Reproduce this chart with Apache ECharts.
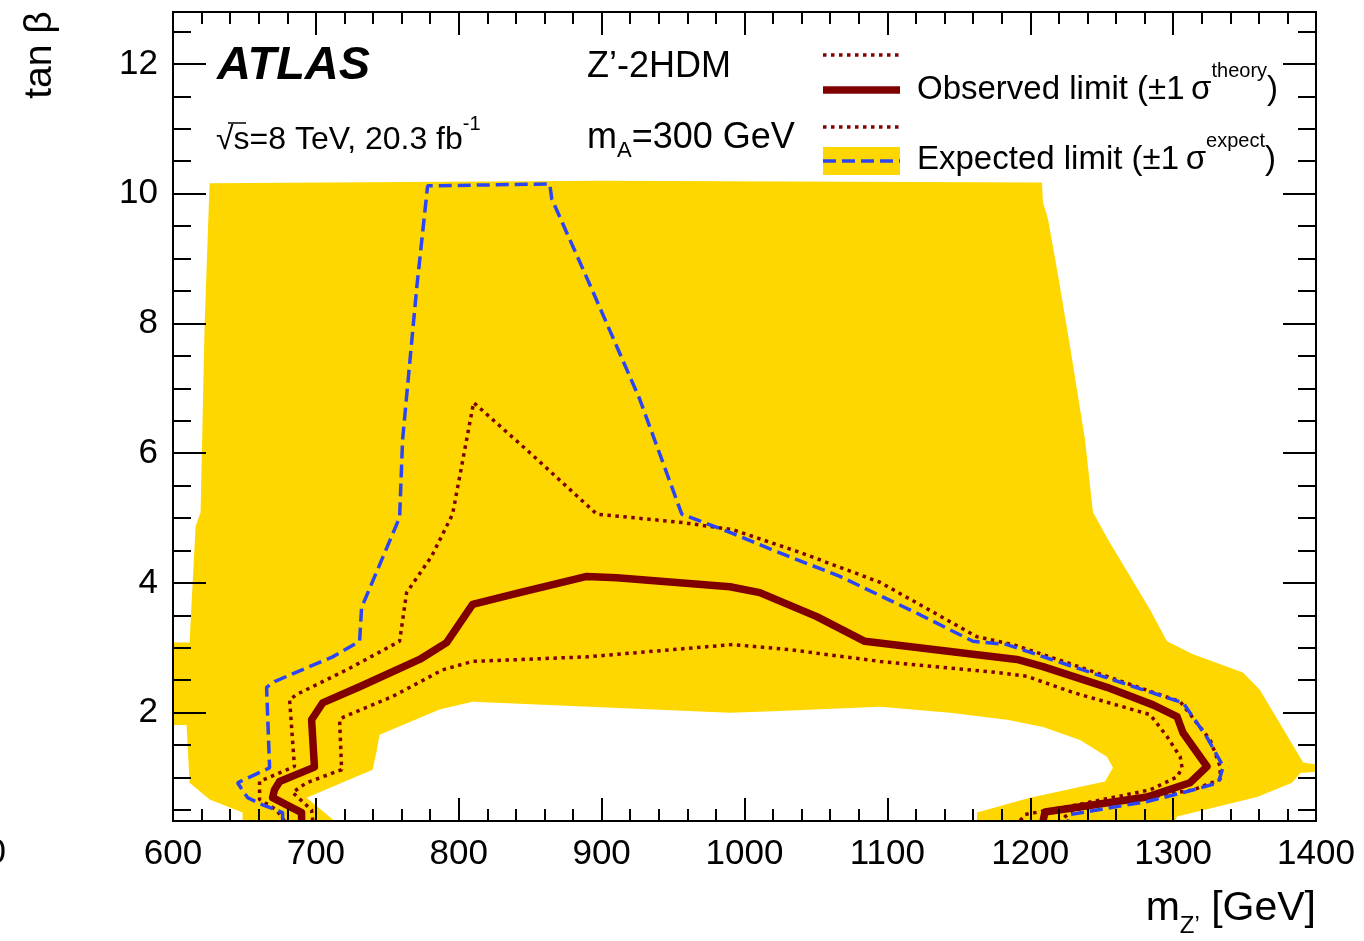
<!DOCTYPE html>
<html>
<head>
<meta charset="utf-8">
<script src="https://cdn.jsdelivr.net/npm/echarts@6/dist/echarts.min.js"></script>
<style>html,body{margin:0;padding:0;background:#fff;}#c{width:1364px;height:941px;}</style>
</head>
<body>
<div id="c"></div>
<script>
// ---- data (m_Z' [GeV], tan beta) ----
const xTicks = [600, 700, 800, 900, 1000, 1100, 1200, 1300, 1400];
const yMajorTicks = [2, 4, 6, 8, 10, 12];
const yMinorTicks = [0.5, 1, 1.5, 2.5, 3, 3.5, 4.5, 5, 5.5, 6.5, 7, 7.5, 8.5, 9, 9.5, 10.5, 11, 11.5, 12.5];

// expected +-1 sigma band outline (single closed contour, open to the bottom axis)
const expectedBand = [[625.6,10.16],[900,10.2],[1208.2,10.17],[1208.9,9.87],[1212.4,9.61],[1218.7,8.84],[1227.8,7.65],[1238.3,6.21],[1243.9,5.09],[1254.4,4.67],[1283.8,3.59],[1295.7,3.1],[1313.9,2.9],[1348.9,2.62],[1360.8,2.35],[1391,1.23],[1400,1.2],[1400,1.09],[1389,1.07],[1383.3,0.92],[1358.8,0.7],[1302.8,0.4],[1301.4,0.33],[1162.7,0.33],[1162.7,0.46],[1199.8,0.69],[1252.3,0.94],[1257.9,1.15],[1253.7,1.32],[1234.8,1.58],[1208.9,1.78],[1183.7,1.89],[1143.8,2.0],[1094.8,2.09],[1019.9,2.02],[989.8,2.0],[903.6,2.08],[809.7,2.17],[786.6,2.05],[744.6,1.66],[742.5,1.4],[739.7,1.12],[693.5,0.69],[713.1,0.33],[648.7,0.33],[648.7,0.46],[625.6,0.66],[611.6,0.92],[609.5,1.81],[600,1.81],[600,3.08],[611.6,3.08],[615.8,4.87],[619.3,5.09],[622.1,7.96],[625.6,10.16]];

const expectedLimit = [[676.7,0.33],[676.7,0.46],[662.7,0.58],[652.2,0.69],[645.2,0.92],[667.6,1.15],[665.5,2.39],[671.1,2.48],[711.7,2.86],[730.6,3.1],[732,3.62],[758.6,5.01],[760.7,6.21],[770.5,8.53],[778.2,10.12],[863.7,10.15],[865.1,9.92],[893.1,8.53],[926.7,6.83],[956.1,5.06],[989.8,4.78],[1022.7,4.48],[1066.8,4.1],[1122.8,3.51],[1159.9,3.1],[1183.7,3.05],[1218.8,2.79],[1300,2.2],[1307.1,2.15],[1323.9,1.61],[1335.1,1.17],[1331.6,0.92],[1319,0.84],[1307.1,0.77],[1281.9,0.63],[1228,0.43],[1226.4,0.33]];

const observedLimit = [[690,0.33],[690,0.46],[669.7,0.69],[671,0.81],[674.6,0.94],[699,1.16],[697,1.89],[704.7,2.15],[730.6,2.4],[772.6,2.82],[791.5,3.08],[809.7,3.67],[842.6,3.85],[889.6,4.1],[910.6,4.08],[989.8,3.94],[1010.7,3.85],[1050.6,3.48],[1084.2,3.1],[1190.7,2.82],[1208.9,2.71],[1253.7,2.39],[1285.9,2.12],[1302.7,1.94],[1306.9,1.69],[1323.7,1.17],[1311.8,0.92],[1281.7,0.7],[1210.3,0.47],[1209,0.33]];

const theoryUp = [[678,0.33],[672.5,0.5],[660.6,0.66],[660.6,0.94],[685,1.17],[681.6,2.2],[686.5,2.28],[721.5,2.66],[758.6,3.1],[763.5,3.85],[781,4.41],[795.7,5.06],[810.4,6.78],[849.6,6.01],[896.6,5.06],[956.8,4.93],[991.9,4.82],[1038.8,4.47],[1094.8,4.01],[1162.7,3.17],[1187.9,3.05],[1229.9,2.74],[1304.9,2.17],[1325.9,1.58],[1332.9,1.17],[1332.9,0.97],[1314,0.81],[1281.7,0.69],[1229.9,0.5],[1220.8,0.33]];

const theoryDown = [[697.8,0.33],[697,0.5],[683.7,0.77],[693.5,0.92],[718,1.12],[716.6,1.89],[720.1,1.94],[753.7,2.25],[788.7,2.66],[809.7,2.79],[889.6,2.86],[991.9,3.05],[1031.8,2.97],[1094.8,2.79],[1176.8,2.62],[1197.8,2.56],[1230,2.31],[1283.9,1.97],[1295.8,1.63],[1304.9,1.32],[1306.3,1.15],[1302.8,1.01],[1283.9,0.81],[1232.7,0.58],[1196.3,0.43],[1192.8,0.33]];

// ---- styles ----
const FONT = '"Liberation Sans", Arial, Helvetica, sans-serif';
const YELLOW = '#FFD700';
const DARKRED = '#800000';
const BLUE = '#2B45F5';
const X_MIN = 600, X_MAX = 1400, Y_MIN = 0.33, Y_MAX = 12.8;

const chart = echarts.init(document.getElementById('c'), null, {renderer: 'canvas'});

function xAxisDef(pos, labels) {
  return {
    type: 'value', position: pos, min: X_MIN, max: X_MAX, interval: 100, z: 10,
    axisLine: {show: true, onZero: false, lineStyle: {color: '#000', width: 2}},
    axisTick: {show: true, inside: true, length: 23, lineStyle: {color: '#000', width: 2}},
    minorTick: {show: true, splitNumber: 5, length: 12, lineStyle: {color: '#000', width: 2}},
    axisLabel: {show: labels, color: '#000', fontSize: 35, fontFamily: FONT, margin: 16,
      customValues: xTicks, formatter: function (v) { return String(v); }},
    splitLine: {show: false}, minorSplitLine: {show: false}
  };
}
function yAxisDef(pos, ticks, len, labels) {
  return {
    type: 'value', position: pos, min: Y_MIN, max: Y_MAX, z: 10,
    axisLine: {show: true, onZero: false, lineStyle: {color: '#000', width: 2}},
    axisTick: {show: true, inside: true, length: len, customValues: ticks, lineStyle: {color: '#000', width: 2}},
    axisLabel: {show: labels, color: '#000', fontSize: 35, fontFamily: FONT, margin: 15,
      customValues: yMajorTicks, formatter: function (v) { return String(v); }},
    splitLine: {show: false}
  };
}

const lineBase = {type: 'line', xAxisIndex: 0, yAxisIndex: 0, showSymbol: false, symbol: 'none', clip: true, silent: true, animation: false};
const DOT = [3.5, 4.5];

function supText(x, y, main, sup, size, lh) {
  return {type: 'text', x: x, y: y, z: 20,
    style: {text: '{n|' + main + '}{p|' + sup + '}{n|' + (sup === '-1' ? '' : ')') + '}', align: 'left', verticalAlign: 'middle', fontFamily: FONT, fill: '#000',
      rich: {n: {fontSize: size, fontFamily: FONT, lineHeight: lh, verticalAlign: 'bottom'},
             p: {fontSize: 20, fontFamily: FONT, lineHeight: 24, verticalAlign: 'top'}}}};
}

const option = {
  animation: false,
  backgroundColor: '#fff',
  grid: {left: 173, right: 48, top: 12, bottom: 120, containLabel: false},
  xAxis: [xAxisDef('bottom', true), xAxisDef('top', false)],
  yAxis: [
    yAxisDef('left', yMajorTicks, 33, true),
    yAxisDef('left', yMinorTicks, 18, false),
    yAxisDef('right', yMajorTicks, 33, false),
    yAxisDef('right', yMinorTicks, 18, false)
  ],
  series: [
    {
      type: 'custom', name: 'Expected band', xAxisIndex: 0, yAxisIndex: 0, clip: true, silent: true, z: 1,
      data: expectedBand,
      renderItem: function (params, api) {
        if (params.dataIndex !== 0) return null;
        const pts = expectedBand.map(p => api.coord(p));
        return {type: 'polygon', shape: {points: pts}, style: {fill: YELLOW, stroke: null}};
      }
    },
    Object.assign({}, lineBase, {name: 'Theory up', data: theoryUp, z: 3,
      lineStyle: {color: DARKRED, width: 3.5, type: DOT}}),
    Object.assign({}, lineBase, {name: 'Theory down', data: theoryDown, z: 3,
      lineStyle: {color: DARKRED, width: 3.5, type: DOT}}),
    Object.assign({}, lineBase, {name: 'Observed limit', data: observedLimit, z: 4,
      lineStyle: {color: DARKRED, width: 7.5, cap: 'butt', join: 'round'}}),
    Object.assign({}, lineBase, {name: 'Expected limit', data: expectedLimit, z: 5,
      lineStyle: {color: BLUE, width: 3.5, type: [13, 6]}})
  ],
  graphic: [
    // clipped glyph at the far left edge of the original picture
    {type: 'text', x: -13.5, y: 853, z: 20,
      style: {text: '0', fontSize: 35, fontFamily: FONT, fill: '#000', align: 'left', verticalAlign: 'middle'}},
    // axis titles
    {type: 'text', x: 40, y: 55, rotation: Math.PI / 2, z: 20,
      style: {text: 'tan β', fontSize: 39, fontFamily: FONT, fill: '#000', align: 'center', verticalAlign: 'middle'}},
    {type: 'text', x: 1316, y: 913, z: 20,
      style: {text: '{n|m}{s|Z\u2019}{n| [GeV]}', align: 'right', verticalAlign: 'middle', fontFamily: FONT, fill: '#000',
        rich: {n: {fontSize: 41, fontFamily: FONT, lineHeight: 50, verticalAlign: 'top'},
               s: {fontSize: 24, fontFamily: FONT, lineHeight: 24, verticalAlign: 'bottom'}}}},
    // ATLAS labels
    {type: 'text', x: 217, y: 66, z: 20,
      style: {text: 'ATLAS', fontSize: 47, fontWeight: 'bold', fontStyle: 'italic', fontFamily: FONT, fill: '#000', align: 'left', verticalAlign: 'middle'}},
    supText(216, 135, '√s=8 TeV, 20.3 fb', '-1', 32, 42),
    {type: 'line', z: 20, shape: {x1: 228, y1: 123, x2: 246, y2: 123}, style: {stroke: '#000', lineWidth: 1.5}},
    {type: 'text', x: 587, y: 67, z: 20,
      style: {text: 'Z\u2019-2HDM', fontSize: 36, fontFamily: FONT, fill: '#000', align: 'left', verticalAlign: 'middle'}},
    {type: 'text', x: 587, y: 141, z: 20,
      style: {text: '{n|m}{s|A}{n|=300 GeV}', align: 'left', verticalAlign: 'middle', fontFamily: FONT, fill: '#000',
        rich: {n: {fontSize: 36, fontFamily: FONT, lineHeight: 42, verticalAlign: 'top'},
               s: {fontSize: 22, fontFamily: FONT, lineHeight: 22, verticalAlign: 'bottom'}}}},
    // legend
    {type: 'line', z: 20, shape: {x1: 823, y1: 55, x2: 900, y2: 55}, style: {stroke: DARKRED, lineWidth: 3.5, lineDash: DOT}},
    {type: 'line', z: 20, shape: {x1: 823, y1: 90, x2: 900, y2: 90}, style: {stroke: DARKRED, lineWidth: 7.5}},
    {type: 'line', z: 20, shape: {x1: 823, y1: 127, x2: 900, y2: 127}, style: {stroke: DARKRED, lineWidth: 3.5, lineDash: DOT}},
    {type: 'rect', z: 20, shape: {x: 823, y: 147, width: 77, height: 28}, style: {fill: YELLOW}},
    {type: 'line', z: 21, shape: {x1: 823, y1: 161, x2: 900, y2: 161}, style: {stroke: BLUE, lineWidth: 3.5, lineDash: [13, 6]}},
    supText(917, 84, 'Observed limit (±1\u2009σ', 'theory', 33, 45),
    supText(917, 154, 'Expected limit (±1\u2009σ', 'expect', 33, 45)
  ]
};
chart.setOption(option);
</script>
</body>
</html>
